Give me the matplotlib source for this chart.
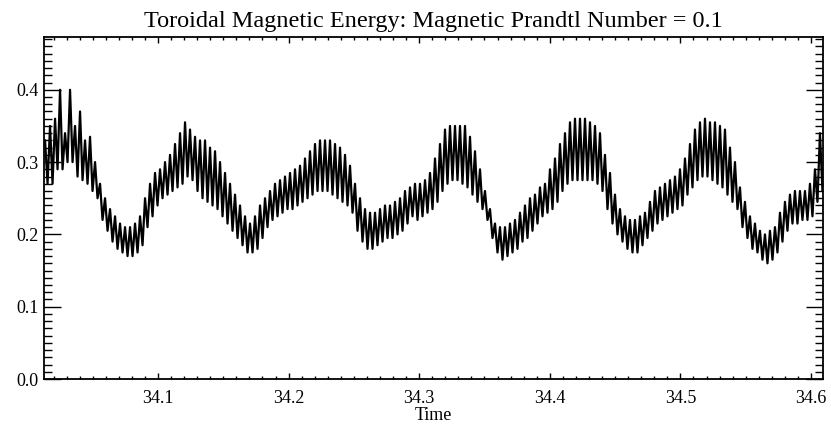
import numpy as np
import matplotlib
matplotlib.use("Agg")
import matplotlib.pyplot as plt
from matplotlib.ticker import MultipleLocator, FormatStrFormatter

# Peak (upper tip) and trough (lower tip) values of each fast oscillation
peak_values = [
    0.33, 0.35, 0.36, 0.40, 0.34, 0.40, 0.35, 0.37, 0.33, 0.335,
    0.30, 0.27, 0.25, 0.235, 0.225, 0.215, 0.21, 0.21, 0.215, 0.225,
    0.25, 0.27, 0.285, 0.29, 0.30, 0.31, 0.325, 0.34, 0.355, 0.345,
    0.335, 0.33, 0.33, 0.32, 0.315, 0.30, 0.285, 0.27, 0.255, 0.24,
    0.225, 0.215, 0.225, 0.24, 0.25, 0.26, 0.27, 0.275, 0.28, 0.285,
    0.29, 0.295, 0.305, 0.315, 0.325, 0.33, 0.33, 0.33, 0.325, 0.32,
    0.31, 0.295, 0.27, 0.25, 0.235, 0.23, 0.23, 0.235, 0.24, 0.24,
    0.245, 0.25, 0.26, 0.265, 0.27, 0.27, 0.275, 0.285, 0.305, 0.325,
    0.345, 0.35, 0.35, 0.35, 0.35, 0.335, 0.315, 0.29, 0.26, 0.235,
    0.215, 0.21, 0.21, 0.215, 0.22, 0.23, 0.24, 0.25, 0.255, 0.265,
    0.27, 0.29, 0.305, 0.325, 0.34, 0.355, 0.36, 0.36, 0.36, 0.355,
    0.35, 0.34, 0.31, 0.285, 0.255, 0.235, 0.225, 0.22, 0.22, 0.225,
    0.23, 0.245, 0.26, 0.265, 0.27, 0.275, 0.28, 0.29, 0.305, 0.325,
    0.345, 0.355, 0.36, 0.355, 0.355, 0.35, 0.345, 0.32, 0.30, 0.265,
    0.245, 0.225, 0.215, 0.205, 0.20, 0.205, 0.21, 0.23, 0.245, 0.255,
    0.26, 0.26, 0.26, 0.27, 0.29, 0.34, 0.30,
]
trough_values = [
    0.27, 0.27, 0.29, 0.29, 0.30, 0.30, 0.28, 0.275, 0.27, 0.26,
    0.25, 0.22, 0.205, 0.19, 0.18, 0.175, 0.17, 0.17, 0.175, 0.185,
    0.21, 0.225, 0.24, 0.25, 0.255, 0.26, 0.265, 0.27, 0.28, 0.275,
    0.26, 0.25, 0.245, 0.24, 0.235, 0.225, 0.215, 0.205, 0.195, 0.185,
    0.175, 0.175, 0.18, 0.195, 0.21, 0.22, 0.225, 0.23, 0.235, 0.235,
    0.24, 0.245, 0.25, 0.255, 0.26, 0.26, 0.26, 0.255, 0.25, 0.245,
    0.24, 0.23, 0.205, 0.19, 0.18, 0.18, 0.185, 0.19, 0.195, 0.195,
    0.20, 0.205, 0.215, 0.225, 0.22, 0.225, 0.23, 0.235, 0.245, 0.26,
    0.27, 0.275, 0.275, 0.27, 0.265, 0.255, 0.245, 0.235, 0.22, 0.195,
    0.175, 0.165, 0.17, 0.175, 0.18, 0.19, 0.195, 0.205, 0.215, 0.225,
    0.23, 0.235, 0.245, 0.26, 0.27, 0.275, 0.275, 0.275, 0.275, 0.275,
    0.27, 0.26, 0.235, 0.215, 0.20, 0.19, 0.18, 0.175, 0.175, 0.185,
    0.195, 0.205, 0.215, 0.22, 0.225, 0.23, 0.235, 0.24, 0.255, 0.265,
    0.275, 0.28, 0.28, 0.275, 0.27, 0.265, 0.255, 0.245, 0.235, 0.21,
    0.195, 0.18, 0.175, 0.165, 0.16, 0.165, 0.175, 0.19, 0.205, 0.215,
    0.215, 0.22, 0.22, 0.225, 0.245, 0.26, 0.27,
]
time_start = 34.0135
time_end = 34.6107
x_ticks = [34.1, 34.2, 34.3, 34.4, 34.5, 34.6]
y_ticks = [0.0, 0.1, 0.2, 0.3, 0.4]
x_limits = (34.0127, 34.6092)
y_limits = (0.0, 0.473)
title_text = "Toroidal Magnetic Energy: Magnetic Prandtl Number = 0.1"
x_label = "Time"

plt.rcParams["font.family"] = ["Liberation Serif", "DejaVu Serif"]

n = len(peak_values)
t = np.linspace(time_start, time_end, n)
dt = t[1] - t[0]
tt = np.empty(2 * n)
yy = np.empty(2 * n)
tt[0::2] = t
tt[1::2] = t + dt / 2
yy[0::2] = peak_values
yy[1::2] = trough_values

fig = plt.figure(figsize=(8.31, 4.28), dpi=100)
ax = fig.add_axes([44 / 831, 49 / 428, 779 / 831, 342 / 428])
ax.plot(tt, yy, color="black", lw=1.6)

ax.set_xlim(*x_limits)
ax.set_ylim(*y_limits)
ax.set_xticks(x_ticks)
ax.set_yticks(y_ticks)
ax.xaxis.set_minor_locator(MultipleLocator(0.01))
ax.yaxis.set_minor_locator(MultipleLocator(0.01))
ax.yaxis.set_major_formatter(FormatStrFormatter("%.1f"))
ax.xaxis.set_major_formatter(FormatStrFormatter("%.1f"))

ax.tick_params(axis="both", which="both", direction="in", top=True, right=True,
               width=1.0, colors="black", labelsize=13)
ax.tick_params(axis="y", which="major", length=12, pad=4)
ax.tick_params(axis="y", which="minor", length=6)
ax.tick_params(axis="x", which="major", length=4.5, pad=8)
ax.tick_params(axis="x", which="minor", length=2.2)
for s in ax.spines.values():
    s.set_linewidth(1.3)

ax.set_title(title_text, fontsize=17.5, pad=7)
ax.set_xlabel(x_label, fontsize=13, labelpad=0)

fig.savefig("out.png", dpi=100)
